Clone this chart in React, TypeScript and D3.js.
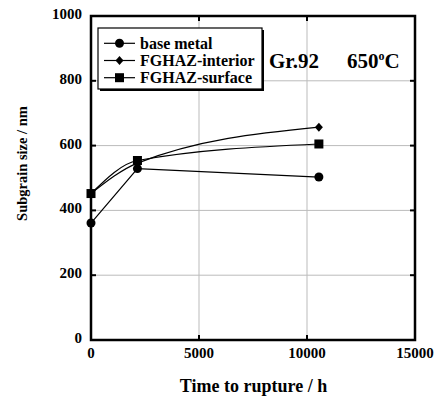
import React, { useRef, useEffect } from 'react';
import * as d3 from 'd3';

// 数据
const times = [0, 2150, 10550];
const baseMetal = [361, 529, 503];
const fghazInterior = [452, 546, 657];
const fghazSurface = [452, 554, 605];
const xTicks = [0, 5000, 10000, 15000];
const yTicks = [0, 200, 400, 600, 800, 1000];
const legendNames = ['base metal', 'FGHAZ-interior', 'FGHAZ-surface'];

export default function App() {
  const ref = useRef<SVGSVGElement>(null);

  useEffect(() => {
    const svg = d3.select(ref.current);
    svg.selectAll('*').remove();

    const left = 91, right = 415, top = 16, bottom = 340;
    const font = 'Liberation Serif, Times New Roman, serif';

    const x = d3.scaleLinear().domain([0, 15000]).range([left, right]);
    const y = d3.scaleLinear().domain([0, 1000]).range([bottom, top]);

    // 网格线
    const grid = svg.append('g');
    grid.selectAll('.gx')
      .data(xTicks.slice(1, -1))
      .enter()
      .append('line')
      .attr('x1', d => x(d)).attr('x2', d => x(d))
      .attr('y1', top).attr('y2', bottom)
      .attr('stroke', '#bbb').attr('stroke-width', 1);
    grid.selectAll('.gy')
      .data(yTicks.slice(1, -1))
      .enter()
      .append('line')
      .attr('x1', left).attr('x2', right)
      .attr('y1', d => y(d)).attr('y2', d => y(d))
      .attr('stroke', '#bbb').attr('stroke-width', 1);

    // 刻度线（内侧）
    const ticks = svg.append('g').attr('stroke', '#000').attr('stroke-width', 2);
    xTicks.forEach(t => {
      ticks.append('line').attr('x1', x(t)).attr('x2', x(t)).attr('y1', bottom).attr('y2', bottom - 5);
      ticks.append('line').attr('x1', x(t)).attr('x2', x(t)).attr('y1', top).attr('y2', top + 5);
    });
    yTicks.forEach(t => {
      ticks.append('line').attr('x1', left).attr('x2', left + 5).attr('y1', y(t)).attr('y2', y(t));
      ticks.append('line').attr('x1', right).attr('x2', right - 5).attr('y1', y(t)).attr('y2', y(t));
    });

    // 边框
    svg.append('rect')
      .attr('x', left).attr('y', top)
      .attr('width', right - left).attr('height', bottom - top)
      .attr('fill', 'none').attr('stroke', '#000').attr('stroke-width', 2.5);

    // 刻度值
    svg.selectAll('.xl')
      .data(xTicks)
      .enter()
      .append('text')
      .attr('x', d => x(d)).attr('y', 358)
      .attr('text-anchor', 'middle')
      .attr('font-family', font).attr('font-weight', 'bold').attr('font-size', 15)
      .text(d => d);
    svg.selectAll('.yl')
      .data(yTicks)
      .enter()
      .append('text')
      .attr('x', 82).attr('y', d => y(d) + 3)
      .attr('text-anchor', 'end')
      .attr('font-family', font).attr('font-weight', 'bold').attr('font-size', 15)
      .text(d => d);

    // 轴标题
    svg.append('text')
      .attr('x', 253.5).attr('y', 392)
      .attr('text-anchor', 'middle')
      .attr('font-family', font).attr('font-weight', 'bold').attr('font-size', 18)
      .text('Time to rupture / h');
    svg.append('text')
      .attr('transform', `translate(27,163.5) rotate(-90)`)
      .attr('text-anchor', 'middle')
      .attr('font-family', font).attr('font-weight', 'bold').attr('font-size', 14.5)
      .text('Subgrain size / nm');

    // 曲线
    const series = [
      { values: baseMetal, marker: 'circle', curve: d3.curveLinear },
      { values: fghazInterior, marker: 'diamond', curve: d3.curveMonotoneX },
      { values: fghazSurface, marker: 'square', curve: d3.curveMonotoneX },
    ];

    function drawMarker(g: any, type: string, cx: number, cy: number) {
      if (type === 'circle') {
        g.append('circle').attr('cx', cx).attr('cy', cy).attr('r', 4.5).attr('fill', '#000');
      } else if (type === 'diamond') {
        g.append('path')
          .attr('d', `M${cx},${cy - 4.5}L${cx + 4},${cy}L${cx},${cy + 4.5}L${cx - 4},${cy}Z`)
          .attr('fill', '#000');
      } else {
        g.append('rect').attr('x', cx - 4.5).attr('y', cy - 4.5).attr('width', 9).attr('height', 9).attr('fill', '#000');
      }
    }

    series.forEach(s => {
      const pts: [number, number][] = times.map((t, i) => [t, s.values[i]]);
      const line = d3.line<[number, number]>()
        .x(d => x(d[0])).y(d => y(d[1]))
        .curve(s.curve);
      svg.append('path')
        .attr('d', line(pts))
        .attr('fill', 'none').attr('stroke', '#000').attr('stroke-width', 1.2);
      const g = svg.append('g');
      pts.forEach(p => drawMarker(g, s.marker, x(p[0]), y(p[1])));
    });

    // 图例
    const lg = svg.append('g');
    lg.append('rect').attr('x', 100).attr('y', 30).attr('width', 164).attr('height', 61).attr('fill', '#000');
    lg.append('rect').attr('x', 98).attr('y', 28).attr('width', 164).attr('height', 61)
      .attr('fill', '#fff').attr('stroke', '#000').attr('stroke-width', 1.2);
    legendNames.forEach((name, i) => {
      const ly = 43.3 + i * 17.2;
      lg.append('line').attr('x1', 104).attr('x2', 135).attr('y1', ly).attr('y2', ly)
        .attr('stroke', '#000').attr('stroke-width', 1.2);
      drawMarker(lg, series[i].marker, 119.5, ly);
      lg.append('text')
        .attr('x', 140).attr('y', ly + 5.5)
        .attr('font-family', font).attr('font-weight', 'bold').attr('font-size', 16)
        .text(name);
    });

    // 注释
    svg.append('text')
      .attr('x', 269).attr('y', 68)
      .attr('font-family', font).attr('font-weight', 'bold').attr('font-size', 21)
      .text('Gr.92');
    const ann2 = svg.append('text')
      .attr('x', 347).attr('y', 68)
      .attr('font-family', font).attr('font-weight', 'bold').attr('font-size', 21)
      .text('650');
    ann2.append('tspan').attr('font-size', 12).attr('dy', -8).text('o');
    ann2.append('tspan').attr('dy', 8).text('C');
  }, []);

  return (
    <div style={{ position: 'absolute', top: 0, left: 0 }}>
      <svg ref={ref} width={437} height={398} style={{ display: 'block', background: '#fff' }} />
    </div>
  );
}
